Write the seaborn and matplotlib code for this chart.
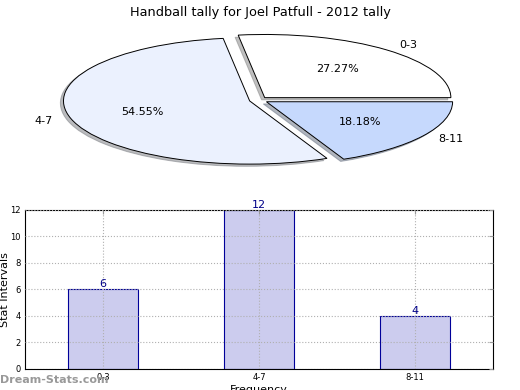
import matplotlib
matplotlib.use('Agg')
import matplotlib.pyplot as plt
import seaborn as sns

# data
categories = ['0-3', '4-7', '8-11']
counts = [6, 12, 4]
pie_colors = ['#ffffff', '#ebf1fe', '#c6d9fd']
title = 'Handball tally for Joel Patfull - 2012 tally'

sns.set_style('white')
plt.rcParams['font.family'] = ['DejaVu Sans']
plt.rcParams['text.color'] = 'black'
plt.rcParams['axes.labelcolor'] = 'black'

fig = plt.figure(figsize=(5.2, 3.9), dpi=100)

# pie on top (stretched, not equal aspect)
ax1 = fig.add_axes([0.039, 0.541, 0.913, 0.405])
ax1.pie(counts, labels=categories, colors=pie_colors, explode=[0.05] * 3,
        shadow={'ox': -0.012, 'oy': -0.025, 'shade': 0.5}, startangle=0,
        autopct='%.2f%%',
        wedgeprops={'edgecolor': 'black', 'linewidth': 0.7},
        textprops={'fontsize': 8, 'color': 'black'})
ax1.set_aspect('auto')
ax1.set_xlim(-1.28, 1.27)
ax1.set_ylim(-1.25, 1.25)
fig.text(0.5, 0.968, title, ha='center', va='center', fontsize=9.3)

# bar chart below
ax2 = fig.add_axes([0.048, 0.054, 0.9, 0.408])
sns.barplot(x=categories, y=counts, ax=ax2, color='#ccccee', edgecolor='#000099',
            linewidth=0.8, width=0.45, saturation=1)
ax2.set_xlim(-0.5, 2.5)
ax2.set_ylim(0, 12)
ax2.set_yticks(range(0, 13, 2))
ax2.grid(True, linestyle=':', color='#b0b0b0', linewidth=0.8)
ax2.set_axisbelow(False)
for s in ax2.spines.values():
    s.set_visible(True)
    s.set_color('black')
    s.set_linewidth(0.8)
ax2.tick_params(direction='in', top=True, right=True, labelsize=6,
                length=3, color='#999999', labelcolor='black', pad=3)
for i, v in enumerate(counts):
    ax2.text(i, v, str(v), ha='center', va='bottom', color='#000088', fontsize=8)
ax2.set_ylabel('Stat Intervals', fontsize=8)
ax2.yaxis.set_label_coords(-0.031, 0.5)
ax2.set_xlabel('Frequency', fontsize=8, labelpad=2)

fig.text(0.0, 0.025, 'Dream-Stats.com', ha='left', va='center',
         fontsize=8, color='#999999', fontweight='bold')

fig.savefig('out.png', dpi=100)
